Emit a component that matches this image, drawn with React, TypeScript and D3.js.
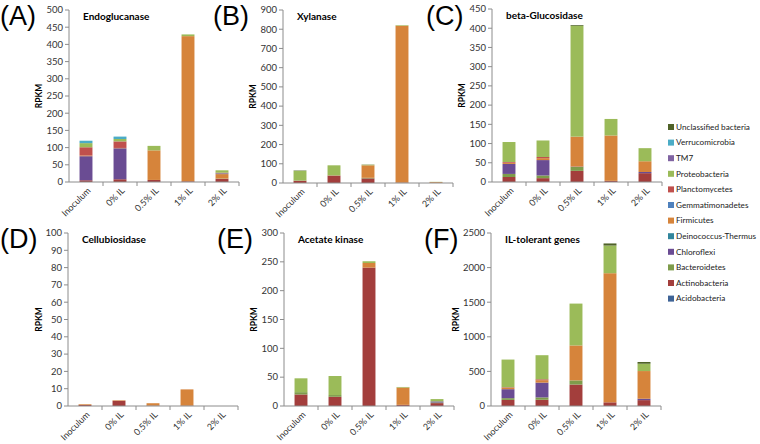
import React from "react";
import * as d3 from "d3";

const categories = ["Inoculum", "0% IL", "0.5% IL", "1% IL", "2% IL"];
const taxa = [
  "Acidobacteria", "Actinobacteria", "Bacteroidetes", "Chloroflexi", "Deinococcus-Thermus",
  "Firmicutes", "Gemmatimonadetes", "Planctomycetes", "Proteobacteria", "TM7",
  "Verrucomicrobia", "Unclassified bacteria",
];
const taxaColors = [
  "#3E6396", "#A33E3C", "#7E9C4B", "#6A4C93", "#31859C",
  "#D6843B", "#4F81BD", "#C0504D", "#9BBB59", "#8064A2",
  "#4BACC6", "#4F6228",
];

// rows follow taxa order, columns follow categories
const endoglucanase = [
  [0, 0, 0, 0, 0], [5, 8, 6, 2, 9], [0, 0, 0, 0, 1], [70, 90, 0, 0, 0],
  [0, 0, 0, 0, 0], [2, 1, 86, 422, 13], [0, 0, 0, 0, 2], [24, 19, 0, 0, 2],
  [12, 7, 13, 5, 7], [0, 0, 0, 0, 0], [7, 7, 0, 0, 0], [0, 0, 0, 0, 0],
];
const xylanase = [
  [0, 0, 0, 0, 0], [12, 38, 24, 2, 1], [1, 2, 3, 0, 0], [0, 0, 0, 0, 0],
  [0, 0, 0, 0, 0], [0, 1, 65, 816, 4], [0, 0, 0, 0, 0], [0, 0, 0, 0, 0],
  [50, 51, 3, 3, 1], [0, 0, 0, 0, 0], [0, 0, 0, 0, 0], [2, 0, 1, 0, 0],
];
const betaGlucosidase = [
  [0, 0, 0, 0, 0], [13, 10, 29, 3, 23], [8, 7, 10, 0, 0], [26, 40, 1, 0, 3],
  [0, 0, 0, 0, 0], [3, 5, 78, 118, 28], [0, 0, 0, 0, 0], [2, 3, 0, 0, 0],
  [52, 43, 288, 43, 34], [0, 0, 0, 0, 0], [0, 0, 0, 0, 0], [0, 0, 2, 0, 0],
];
const cellubiosidase = [
  [0, 0, 0, 0, 0], [0.6, 3.0, 0.2, 0.2, 0], [0, 0, 0, 0, 0], [0, 0, 0, 0, 0],
  [0, 0, 0, 0, 0], [0.4, 0.3, 1.4, 9.4, 0], [0, 0, 0, 0, 0], [0, 0, 0, 0, 0],
  [0, 0, 0, 0, 0], [0, 0, 0, 0, 0], [0, 0, 0, 0, 0], [0, 0, 0, 0, 0],
];
const acetateKinase = [
  [0, 0, 0, 0, 0], [20, 16, 240, 2, 5], [4, 3, 0, 0, 1], [0, 0, 0, 0, 2],
  [0, 0, 0, 0, 0], [0, 0, 8, 30, 0], [0, 0, 0, 0, 0], [0, 0, 0, 0, 0],
  [24, 33, 3, 1, 4], [0, 0, 0, 0, 0], [0, 0, 0, 0, 0], [0, 0, 0, 0, 0],
];
const ilTolerant = [
  [0, 0, 0, 0, 0], [88, 90, 310, 53, 85], [25, 34, 60, 0, 0], [130, 214, 0, 0, 20],
  [0, 0, 0, 0, 0], [20, 35, 505, 1866, 400], [0, 0, 0, 0, 0], [8, 13, 0, 0, 0],
  [400, 348, 605, 400, 106], [0, 0, 0, 0, 0], [0, 0, 0, 0, 0], [0, 0, 0, 30, 25],
];

const panelTitles = ["Endoglucanase", "Xylanase", "beta-Glucosidase", "Cellubiosidase", "Acetate kinase", "IL-tolerant genes"];
const panelLetters = ["(A)", "(B)", "(C)", "(D)", "(E)", "(F)"];
const panelMax = [500, 900, 450, 100, 300, 2500];
const panelStep = [50, 100, 50, 10, 50, 500];
const panelData = [endoglucanase, xylanase, betaGlucosidase, cellubiosidase, acetateKinase, ilTolerant];

// layout (pixels)
const layout = [
  { x0: 69, x1: 239, top: 10, bot: 182, lx: 0, ly: 25, rx: 39 },
  { x0: 283, x1: 453, top: 10, bot: 183, lx: 213, ly: 25, rx: 253 },
  { x0: 492, x1: 662, top: 9, bot: 182, lx: 426, ly: 25, rx: 462 },
  { x0: 68, x1: 238, top: 233, bot: 406, lx: 0, ly: 248, rx: 39 },
  { x0: 284, x1: 454, top: 233, bot: 406, lx: 217, ly: 248, rx: 254 },
  { x0: 491, x1: 661, top: 233, bot: 406, lx: 424, ly: 248, rx: 456 },
];

const FONT = "Lato, 'Open Sans', sans-serif";
const AXIS = "#8C8C8C";

function Panel({ i }: { i: number }) {
  const L = layout[i];
  const data = panelData[i];
  const x = d3.scaleBand<string>().domain(categories).range([L.x0, L.x1]).paddingInner(0.62).paddingOuter(0.31);
  const y = d3.scaleLinear().domain([0, panelMax[i]]).range([L.bot, L.top]);
  const rows = categories.map((c, j) => {
    const o: any = { cat: c };
    taxa.forEach((t, k) => (o[t] = data[k][j]));
    return o;
  });
  const series = d3.stack<any>().keys(taxa)(rows);
  const ticks = d3.range(0, panelMax[i] + 1e-9, panelStep[i]);
  const step = (L.x1 - L.x0) / categories.length;
  return (
    <g>
      <text x={L.lx} y={L.ly} fontFamily="'Liberation Sans', Arial, sans-serif" fontSize={27} fill="#000">{panelLetters[i]}</text>
      {series.map((s, k) => (
        <g key={k} fill={taxaColors[k]}>
          {s.map((d, j) => {
            const h = y(d[0]) - y(d[1]);
            if (h <= 0) return null;
            return <rect key={j} x={x(categories[j])} width={x.bandwidth()} y={y(d[1])} height={h} />;
          })}
        </g>
      ))}
      <line x1={L.x0} x2={L.x0} y1={L.top} y2={L.bot} stroke={AXIS} strokeWidth={1} />
      <line x1={L.x0} x2={L.x1} y1={L.bot} y2={L.bot} stroke={AXIS} strokeWidth={1} />
      {ticks.map((t) => (
        <g key={t}>
          <line x1={L.x0 - 4} x2={L.x0} y1={y(t)} y2={y(t)} stroke={AXIS} />
          <text x={L.x0 - 6} y={y(t)} dy="0.35em" textAnchor="end" fontFamily={FONT} fontSize={9.5} fill="#333">{t}</text>
        </g>
      ))}
      {d3.range(1, categories.length + 1).map((k) => (
        <line key={k} x1={L.x0 + k * step} x2={L.x0 + k * step} y1={L.bot} y2={L.bot + 4} stroke={AXIS} />
      ))}
      {categories.map((c) => {
        const cx = (x(c) as number) + x.bandwidth() / 2;
        return (
          <text key={c} transform={`translate(${cx + 3},${L.bot + 7}) rotate(-45)`} textAnchor="end" dy="0.35em"
            fontFamily={FONT} fontSize={9} fill="#333">{c}</text>
        );
      })}
      <text transform={`translate(${L.rx},${(L.top + L.bot) / 2}) rotate(-90)`} textAnchor="middle" dy="0.35em"
        fontFamily={FONT} fontSize={8.5} fontWeight="bold" fill="#000">RPKM</text>
      <text x={L.x0 + 14} y={L.top + 10} fontFamily={FONT} fontSize={10} fontWeight="bold" fill="#000">{panelTitles[i]}</text>
    </g>
  );
}

export default function App() {
  const legendOrder = taxa.map((t, k) => k).reverse();
  return (
    <svg width={760} height={444} style={{ position: "absolute", left: 0, top: 0, background: "#fff" }}>
      <rect width={760} height={444} fill="#fff" />
      {layout.map((_, i) => <Panel key={i} i={i} />)}
      {legendOrder.map((k, r) => (
        <g key={k} transform={`translate(668,${127 + r * 15.6})`}>
          <rect x={0} y={-3} width={6} height={6} fill={taxaColors[k]} />
          <text x={8} y={0} dy="0.35em" fontFamily={FONT} fontSize={8.2} fill="#222">{taxa[k]}</text>
        </g>
      ))}
    </svg>
  );
}
